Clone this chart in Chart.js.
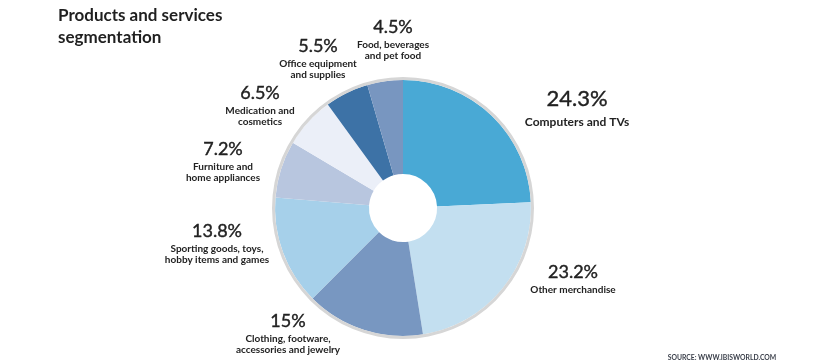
<!DOCTYPE html>
<html>
<head>
<meta charset="utf-8">
<script src="https://cdn.jsdelivr.net/npm/chart.js@4"></script>
<style>
html,body{margin:0;padding:0;background:#fff;}
#wrap{width:831px;height:362px;position:relative;}
</style>
</head>
<body>
<div id="wrap"><canvas id="c" width="831" height="362"></canvas></div>
<script>
const categories = [
  ["Computers and TVs"],
  ["Other merchandise"],
  ["Clothing, footware,", "accessories and jewelry"],
  ["Sporting goods, toys,", "hobby items and games"],
  ["Furniture and", "home appliances"],
  ["Medication and", "cosmetics"],
  ["Office equipment", "and supplies"],
  ["Food, beverages", "and pet food"]
];
const values = [24.3, 23.2, 15, 13.8, 7.2, 6.5, 5.5, 4.5];
const colors = ["#49a9d5", "#c3dff0", "#7897c1", "#a6d0ea", "#b8c6df", "#ebeff8", "#3d72a6", "#7896c0"];
const titleLines = ["Products and services", "segmentation"];
const sourceText = "SOURCE: WWW.IBISWORLD.COM";

// label anchor points (centre of the percentage text)
const labelAnchors = [[577,99],[573,272],[288,321],[217,231],[223,149],[260,93],[318,46],[393,27]];

const labelPlugin = {
  id: 'labels',
  afterDraw(chart) {
    const ctx = chart.ctx;
    ctx.save();
    ctx.fillStyle = '#1f1f1f';
    ctx.textBaseline = 'middle';
    ctx.textAlign = 'left';
    ctx.font = 'bold 17px Lato';
    titleLines.forEach((t, i) => ctx.fillText(t, 58, 16 + i * 22));
    ctx.textAlign = 'center';
    values.forEach((v, i) => {
      const [x, y] = labelAnchors[i];
      const big = i === 0;
      ctx.font = (big ? '22px' : '18px') + ' Lato';
      ctx.fillStyle = '#222';
      ctx.strokeStyle = '#222';
      ctx.lineWidth = 0.4;
      ctx.fillText(v + '%', x, y);
      ctx.strokeText(v + '%', x, y);
      ctx.font = (big ? 'bold 12px' : 'bold 10px') + ' Lato';
      const off = big ? 23 : 18;
      categories[i].forEach((line, j) => ctx.fillText(line, x, y + off + j * 11));
    });
    ctx.font = 'bold 6.8px Lato';
    ctx.fillStyle = '#3a3f4a';
    ctx.fillText(sourceText, 722, 358);
    ctx.restore();
  }
};

new Chart(document.getElementById('c'), {
  type: 'doughnut',
  data: {
    labels: categories.map(c => c.join(' ')),
    datasets: [
      { data: [100], backgroundColor: ['#d6d6d6'], borderWidth: 0, weight: 0.032 },
      { data: values, backgroundColor: colors, borderWidth: 0, weight: 1 }
    ]
  },
  options: {
    responsive: false,
    animation: false,
    cutout: '26%',
    layout: { padding: { top: 77, bottom: 23, left: 0, right: 25 } },
    plugins: { legend: { display: false }, tooltip: { enabled: false }, title: { display: false } }
  },
  plugins: [labelPlugin]
});
</script>
</body>
</html>
